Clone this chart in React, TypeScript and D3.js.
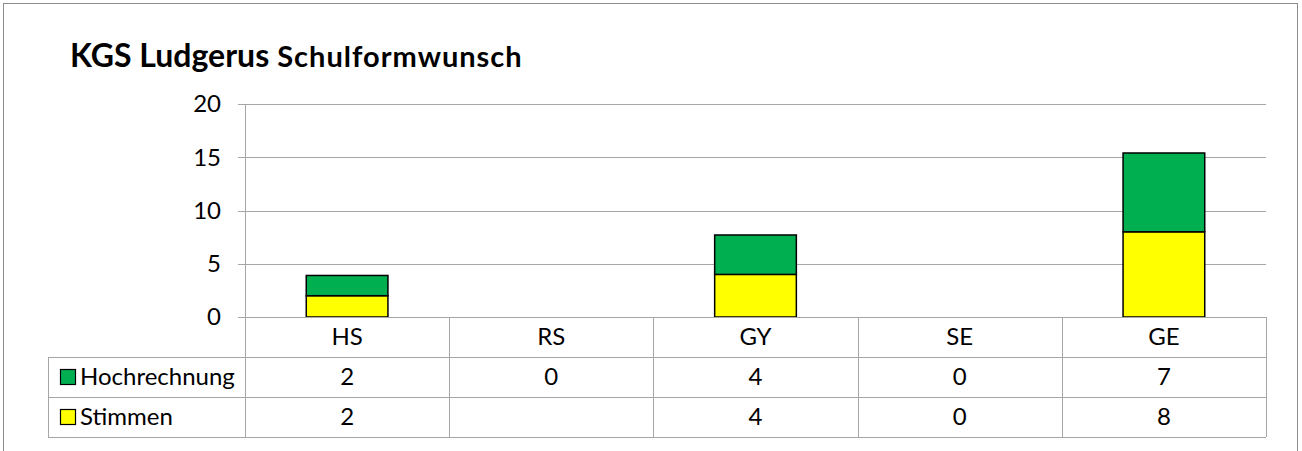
import React from "react";
import * as d3 from "d3";

const categories = ["HS", "RS", "GY", "SE", "GE"];
const stimmen: (number | null)[] = [2, null, 4, 0, 8];
const hochrechnung: number[] = [1.9, 0, 3.7, 0, 7.4];
const yTicks = [0, 5, 10, 15, 20];
const seriesNames = ["Hochrechnung", "Stimmen"];
const seriesColors = ["#00B050", "#FFFF00"];

const W = 1302;
const H = 451;
const FONT = "Lato, 'Open Sans', sans-serif";

export default function App() {
  const plotL = 245, plotR = 1266, plotT = 104, plotB = 317;
  const rowH = 40;
  const tableL = 48;

  const x = d3.scaleBand<string>().domain(categories).range([plotL, plotR]).padding(0);
  const y = d3.scaleLinear().domain([0, 20]).range([plotB, plotT]);

  const rows = categories.map((c, i) => ({
    cat: c,
    Stimmen: stimmen[i] ?? 0,
    Hochrechnung: hochrechnung[i],
  }));
  const stack = d3.stack<any>().keys(["Stimmen", "Hochrechnung"]);
  const layers = stack(rows);
  const colorOf: Record<string, string> = { Stimmen: seriesColors[1], Hochrechnung: seriesColors[0] };

  const bw = x.bandwidth() * 0.4;
  const grid = "#a6a6a6";
  const fs = 24;

  const tableRows = [
    { name: seriesNames[0], color: seriesColors[0], vals: hochrechnung.map((v) => String(Math.round(v))) },
    { name: seriesNames[1], color: seriesColors[1], vals: stimmen.map((v) => (v == null ? "" : String(Math.round(v)))) },
  ];

  return (
    <svg width={W} height={H} style={{ position: "absolute", left: 0, top: 0, background: "#fff" }} fontFamily={FONT}>
      <rect x={3.5} y={3.5} width={1294} height={460} fill="#fff" stroke="#8c8c8c" strokeWidth={1} />
      <text x={70} y={67} fontWeight="bold" fill="#000">
        <tspan fontSize={32}>KGS Ludgerus</tspan>
        <tspan fontSize={29} dx={8} letterSpacing={1}>Schulformwunsch</tspan>
      </text>

      {yTicks.map((t) => (
        <g key={t}>
          <line x1={plotL - 7} x2={plotR} y1={Math.round(y(t)) + 0.5} y2={Math.round(y(t)) + 0.5} stroke={grid} strokeWidth={1} />
          <text x={221} y={y(t)} dy="0.35em" textAnchor="end" fontSize={fs} fill="#000">{t}</text>
        </g>
      ))}
      <line x1={plotL + 0.5} x2={plotL + 0.5} y1={plotT} y2={plotB} stroke={grid} />

      {layers.map((layer) =>
        layer.map((d, i) => {
          const h = y(d[0]) - y(d[1]);
          if (h <= 0) return null;
          return (
            <rect
              key={layer.key + i}
              x={(x(categories[i]) as number) + (x.bandwidth() - bw) / 2}
              y={y(d[1])}
              width={bw}
              height={h}
              fill={colorOf[layer.key]}
              stroke="#000"
              strokeWidth={1.5}
            />
          );
        })
      )}

      <g>
        {categories.map((c) => (
          <text key={c} x={(x(c) as number) + x.bandwidth() / 2} y={plotB + rowH / 2} dy="0.35em" textAnchor="middle" fontSize={fs} fill="#000">{c}</text>
        ))}
        {tableRows.map((r, ri) => {
          const ty = plotB + rowH * (ri + 1);
          return (
            <g key={r.name}>
              <rect x={60.5} y={ty + rowH / 2 - 7.5} width={15} height={15} fill={r.color} stroke="#000" strokeWidth={1.2} />
              <text x={80} y={ty + rowH / 2} dy="0.35em" fontSize={fs} fill="#000">{r.name}</text>
              {r.vals.map((v, i) => (
                <text key={i} x={(x(categories[i]) as number) + x.bandwidth() / 2} y={ty + rowH / 2} dy="0.35em" textAnchor="middle" fontSize={fs} fill="#000">{v}</text>
              ))}
            </g>
          );
        })}
        <line x1={plotL - 7} x2={plotR} y1={plotB + 0.5} y2={plotB + 0.5} stroke={grid} />
        {[1, 2, 3].map((k) => (
          <line key={k} x1={tableL} x2={plotR} y1={plotB + rowH * k + 0.5} y2={plotB + rowH * k + 0.5} stroke={grid} />
        ))}
        <line x1={tableL + 0.5} x2={tableL + 0.5} y1={plotB + rowH} y2={plotB + rowH * 3} stroke={grid} />
        {categories.map((c) => (
          <line key={c} x1={Math.round(x(c) as number) + 0.5} x2={Math.round(x(c) as number) + 0.5} y1={plotB} y2={plotB + rowH * 3} stroke={grid} />
        ))}
        <line x1={plotR + 0.5} x2={plotR + 0.5} y1={plotB} y2={plotB + rowH * 3} stroke={grid} />
      </g>
    </svg>
  );
}
